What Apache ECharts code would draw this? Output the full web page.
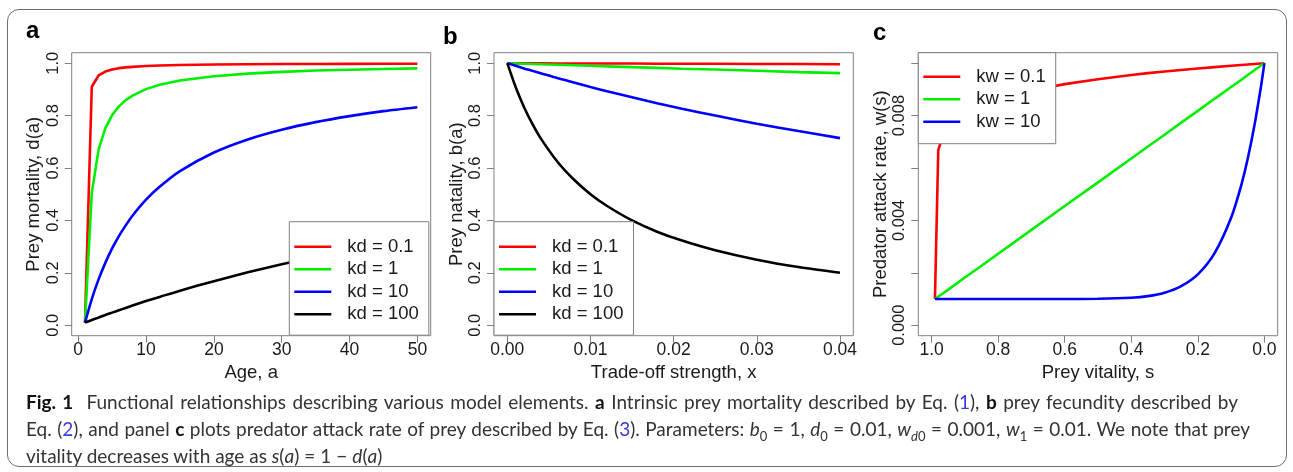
<!DOCTYPE html>
<html>
<head>
<meta charset="utf-8">
<script src="https://cdn.jsdelivr.net/npm/echarts@6/dist/echarts.min.js"></script>
<style>
  html, body { margin: 0; padding: 0; background: #ffffff; }
  #wrap { position: relative; width: 1293px; height: 472px; overflow: hidden; }
  #frame {
    position: absolute; left: 7px; top: 9px; width: 1280px; height: 458px;
    border: 1.5px solid #6e6e6e; border-radius: 12px; box-sizing: border-box;
  }
  #main { position: absolute; left: 0; top: 0; width: 1293px; height: 472px; }
  #caption {
    position: absolute; left: 26px; top: 388px;
    font-family: Lato, "Open Sans", sans-serif; font-size: 19px;
    line-height: 27px; color: #333333;
  }
  #caption .row { white-space: nowrap; }
  #caption .just { text-align: justify; text-align-last: justify; }
  #caption .ref { color: #3a3ad8; }
  #caption b { color: #111; }
  #caption sub { font-size: 13px; line-height: 0; }
  #caption .op { padding: 0 5px; }
</style>
</head>
<body>
<div id="wrap">
  <div id="frame"></div>
  <div id="main"></div>
  <div id="caption">
    <div class="row just" style="width:1212px"><b>Fig. 1</b>&nbsp; Functional relationships describing various model elements. <b>a</b> Intrinsic prey mortality described by Eq. (<span class="ref">1</span>), <b>b</b> prey fecundity described by</div>
    <div class="row just" style="width:1224px">Eq. (<span class="ref">2</span>), and panel <b>c</b> plots predator attack rate of prey described by Eq. (<span class="ref">3</span>). Parameters: <i>b</i><sub>0</sub> = 1, <i>d</i><sub>0</sub> = 0.01, <i>w</i><sub><i>d</i>0</sub> = 0.001, <i>w</i><sub>1</sub> = 0.01. We note that prey</div>
    <div class="row">vitality decreases with age as <i>s</i>(<i>a</i>)<span class="op">=</span>1<span class="op">&minus;</span><i>d</i>(<i>a</i>)</div>
  </div>
</div>
<script>
// ---- panel a: prey mortality vs age ----
var ageX = [1, 2, 3, 4, 5, 6, 7, 8, 10, 12, 15, 20, 25, 30, 35, 40, 45, 50];
var mortKd01 = [0.01, 0.91, 0.953, 0.968, 0.976, 0.981, 0.984, 0.986, 0.989, 0.991, 0.993, 0.995, 0.996, 0.9966, 0.997, 0.9975, 0.9978, 0.998];
var mortKd1 = [0.01, 0.505, 0.67, 0.752, 0.802, 0.835, 0.859, 0.876, 0.901, 0.918, 0.934, 0.950, 0.960, 0.967, 0.972, 0.975, 0.978, 0.980];
var mortKd10 = [0.01, 0.10, 0.175, 0.238, 0.293, 0.34, 0.381, 0.418, 0.479, 0.528, 0.588, 0.659, 0.709, 0.746, 0.775, 0.798, 0.817, 0.832];
var mortKd100 = [0.01, 0.02, 0.029, 0.039, 0.048, 0.057, 0.066, 0.075, 0.092, 0.108, 0.132, 0.168, 0.202, 0.233, 0.261, 0.288, 0.313, 0.336];

// ---- panel b: prey natality vs trade-off strength ----
var tradeX = [0, 0.001, 0.002, 0.003, 0.004, 0.006, 0.008, 0.010, 0.012, 0.015, 0.018, 0.021, 0.025, 0.030, 0.035, 0.040];
var natKd01 = [1, 1.000, 1.000, 1.000, 1.000, 0.999, 0.999, 0.999, 0.999, 0.999, 0.998, 0.998, 0.998, 0.997, 0.997, 0.996];
var natKd1 = [1, 0.999, 0.998, 0.997, 0.996, 0.994, 0.992, 0.990, 0.988, 0.985, 0.982, 0.979, 0.976, 0.971, 0.966, 0.962];
var natKd10 = [1, 0.990, 0.980, 0.971, 0.962, 0.943, 0.926, 0.909, 0.893, 0.870, 0.847, 0.826, 0.800, 0.769, 0.741, 0.714];
var natKd100 = [1, 0.909, 0.833, 0.769, 0.714, 0.625, 0.556, 0.500, 0.455, 0.400, 0.357, 0.323, 0.286, 0.250, 0.222, 0.200];

// ---- panel c: predator attack rate vs prey vitality ----
var vitX = [0.99, 0.98, 0.97, 0.95, 0.9, 0.85, 0.8, 0.7, 0.6, 0.5, 0.4, 0.35, 0.3, 0.25, 0.2, 0.15, 0.1, 0.07, 0.05, 0.03, 0.01, 0];
var attKw01 = [0.0010, 0.00668, 0.00709, 0.00753, 0.00808, 0.00840, 0.00863, 0.00896, 0.00920, 0.00939, 0.00955, 0.00962, 0.00968, 0.00974, 0.00980, 0.00985, 0.00990, 0.00993, 0.00995, 0.00997, 0.00999, 0.0100];
var attKw1 = [0.0010, 0.00109, 0.00118, 0.00136, 0.00182, 0.00227, 0.00273, 0.00364, 0.00455, 0.00545, 0.00636, 0.00682, 0.00727, 0.00773, 0.00818, 0.00864, 0.00909, 0.00936, 0.00955, 0.00973, 0.00991, 0.0100];
var attKw10 = [0.0010, 0.0010, 0.0010, 0.0010, 0.0010, 0.0010, 0.0010, 0.0010, 0.0010, 0.00101, 0.00105, 0.00111, 0.00124, 0.00149, 0.00194, 0.00274, 0.00410, 0.00532, 0.00636, 0.00762, 0.00913, 0.0100];

// tick labels
var ageTicks = [0, 10, 20, 30, 40, 50];
var propTicks = [0, 0.2, 0.4, 0.6, 0.8, 1.0];
var tradeTicks = [0, 0.01, 0.02, 0.03, 0.04];
var vitTicks = [1.0, 0.8, 0.6, 0.4, 0.2, 0.0];
var attTicks = [0, 0.002, 0.004, 0.006, 0.008, 0.010];
var attLabelled = [0, 0.004, 0.008];

var kdNames = ['kd = 0.1', 'kd = 1', 'kd = 10', 'kd = 100'];
var kwNames = ['kw = 0.1', 'kw = 1', 'kw = 10'];
var lineColors = ['#ff0000', '#00ee00', '#0000ff', '#000000'];

var font = '"Liberation Sans", Arial, sans-serif';
var boxGray = '#808080';
var textCol = '#1a1a1a';

function pairs(xs, ys) {
  return xs.map(function (x, i) { return [x, ys[i]]; });
}

function xAx(idx, name, min, max, ticks, fmt, inverse) {
  return {
    type: 'value', gridIndex: idx, min: min, max: max, inverse: !!inverse,
    name: name, nameLocation: 'middle', nameGap: 21,
    nameTextStyle: { fontFamily: font, fontSize: 18.5, color: textCol },
    axisLine: { show: false, onZero: false },
    splitLine: { show: false },
    axisTick: { show: true, inside: false, length: 7, customValues: ticks, lineStyle: { color: boxGray } },
    axisLabel: { customValues: ticks, margin: 5, fontFamily: font, fontSize: 17.5, color: textCol, formatter: fmt }
  };
}

function yAx(idx, name, min, max, ticks, fmt, gap) {
  return {
    type: 'value', gridIndex: idx, min: min, max: max,
    name: name, nameLocation: 'middle', nameGap: gap, nameRotate: 90,
    nameTextStyle: { fontFamily: font, fontSize: 18.5, color: textCol },
    axisLine: { show: false, onZero: false },
    splitLine: { show: false },
    axisTick: { show: true, inside: false, length: 7, customValues: ticks, lineStyle: { color: boxGray } },
    axisLabel: { customValues: ticks, rotate: 90, margin: 10, fontFamily: font, fontSize: 16.5, color: textCol, formatter: fmt }
  };
}

function legendBox(names, left, top, pad) {
  return {
    orient: 'vertical', left: left, top: top, data: names, selectedMode: false,
    backgroundColor: '#ffffff', borderColor: boxGray, borderWidth: 1, borderRadius: 0,
    padding: pad, icon: 'rect',
    itemWidth: 37, itemHeight: 2.6, itemGap: 0.5,
    textStyle: { fontFamily: font, fontSize: 18.5, color: textCol, lineHeight: 22, padding: [0, 0, 0, 11] }
  };
}

// smooth only where the curve is gentle; sharp corners stay straight
function line(name, xi, data, color, smooth) {
  return {
    name: name, type: 'line', xAxisIndex: xi, yAxisIndex: xi, data: data,
    symbol: 'none', smooth: smooth || false, silent: true, animation: false,
    lineStyle: { color: color, width: 2.6 }, itemStyle: { color: color }
  };
}

var chart = echarts.init(document.getElementById('main'), null, { renderer: 'canvas' });

var panelTitle = { fontFamily: font, fontSize: 24, fontWeight: 'bold', color: '#000' };

chart.setOption({
  animation: false,
  title: [
    { text: 'a', left: 26, top: 19.5, padding: 0, textStyle: panelTitle },
    { text: 'b', left: 443, top: 25, padding: 0, textStyle: panelTitle },
    { text: 'c', left: 873, top: 21, padding: 0, textStyle: panelTitle }
  ],
  grid: [
    { left: 71.7, top: 52.7, width: 359, height: 283, show: true, borderColor: boxGray, borderWidth: 1, backgroundColor: 'transparent' },
    { left: 494, top: 52.7, width: 359.3, height: 283, show: true, borderColor: boxGray, borderWidth: 1, backgroundColor: 'transparent' },
    { left: 918.3, top: 52.7, width: 359.4, height: 283, show: true, borderColor: boxGray, borderWidth: 1, backgroundColor: 'transparent' }
  ],
  xAxis: [
    xAx(0, 'Age, a', -0.96, 51.96, ageTicks, function (v) { return String(v); }),
    xAx(1, 'Trade-off strength, x', -0.0016, 0.0416, tradeTicks, function (v) { return v.toFixed(2); }),
    xAx(2, 'Prey vitality, s', -0.04, 1.04, vitTicks, function (v) { return v.toFixed(1); }, true)
  ],
  yAxis: [
    yAx(0, 'Prey mortality, d(a)', -0.04, 1.04, propTicks, function (v) { return v.toFixed(1); }, 28),
    yAx(1, 'Prey natality, b(a)', -0.04, 1.04, propTicks, function (v) { return v.toFixed(1); }, 28),
    yAx(2, 'Predator attack rate, w(s)', -0.0004, 0.0104, attTicks, function (v) {
      var ok = attLabelled.some(function (t) { return Math.abs(t - v) < 1e-9; });
      return ok ? v.toFixed(3) : '';
    }, 27)
  ],
  legend: [
    legendBox(kdNames, 289.3, 221.7, [14, 10, 10, 5]),
    legendBox(kdNames, 494, 221.7, [14, 10, 10, 5]),
    legendBox(kwNames, 918.3, 52.7, [13, 10, 11, 5])
  ],
  series: [
    line(kdNames[0], 0, pairs(ageX, mortKd01), lineColors[0]),
    line(kdNames[1], 0, pairs(ageX, mortKd1), lineColors[1]),
    line(kdNames[2], 0, pairs(ageX, mortKd10), lineColors[2], 0.25),
    line(kdNames[3], 0, pairs(ageX, mortKd100), lineColors[3], 0.25),
    line(kdNames[0], 1, pairs(tradeX, natKd01), lineColors[0]),
    line(kdNames[1], 1, pairs(tradeX, natKd1), lineColors[1]),
    line(kdNames[2], 1, pairs(tradeX, natKd10), lineColors[2], 0.25),
    line(kdNames[3], 1, pairs(tradeX, natKd100), lineColors[3], 0.25),
    line(kwNames[0], 2, pairs(vitX, attKw01), lineColors[0]),
    line(kwNames[1], 2, pairs(vitX, attKw1), lineColors[1]),
    line(kwNames[2], 2, pairs(vitX, attKw10), lineColors[2], 0.25)
  ]
});
</script>
</body>
</html>
